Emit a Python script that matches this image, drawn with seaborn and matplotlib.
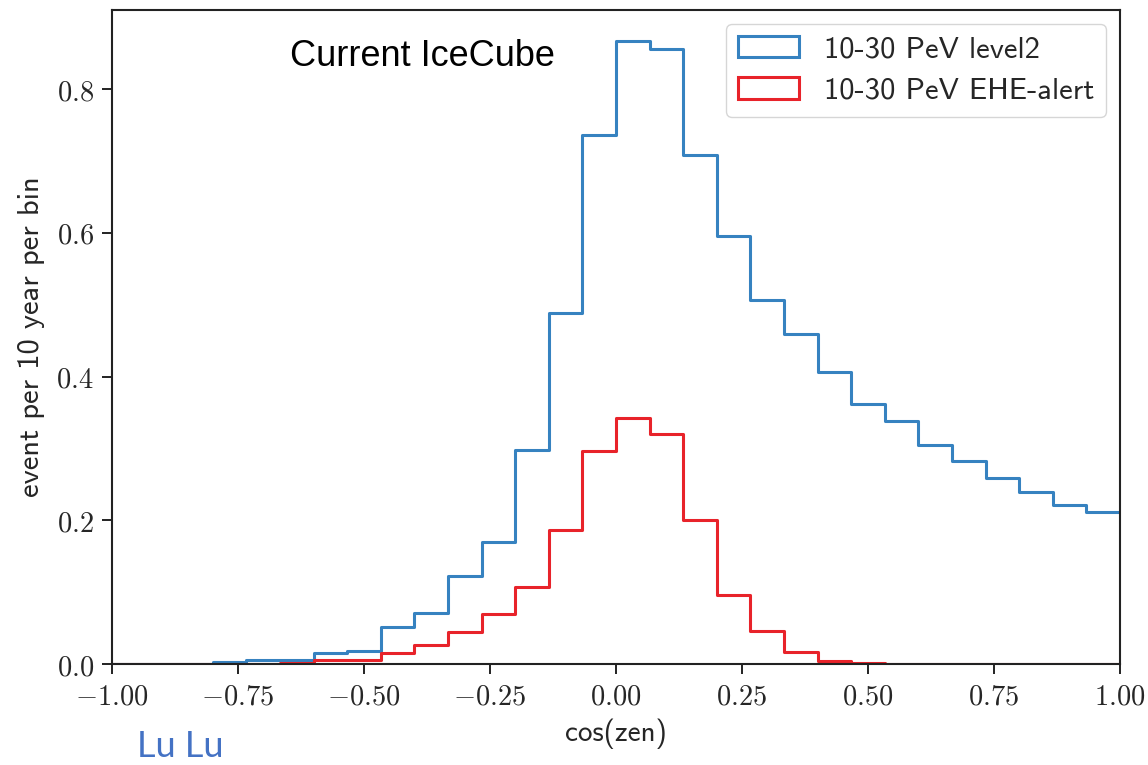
import numpy as np
import pandas as pd
import matplotlib
matplotlib.use("Agg")
import matplotlib.pyplot as plt
from matplotlib.ticker import FixedLocator, FuncFormatter
from matplotlib.patches import Patch
import seaborn as sns

# ---- data ----
n_bins = 30
x_range = (-1.0, 1.0)
bin_centers = np.linspace(-1.0, 1.0, n_bins + 1)[:-1] + 1.0 / n_bins

level2 = [0.0, 0.0, 0.0, 0.003, 0.006, 0.006, 0.016, 0.018, 0.052, 0.071,
          0.122, 0.170, 0.298, 0.488, 0.736, 0.867, 0.856, 0.708, 0.595, 0.506,
          0.459, 0.406, 0.362, 0.338, 0.305, 0.283, 0.259, 0.239, 0.221, 0.211]
ehe_alert = [0.0, 0.0, 0.0, 0.0, 0.0, 0.002, 0.006, 0.006, 0.016, 0.026,
             0.044, 0.069, 0.107, 0.187, 0.296, 0.342, 0.320, 0.201, 0.096, 0.046,
             0.017, 0.004, 0.002, 0.0, 0.0, 0.0, 0.0, 0.0, 0.0, 0.0]
labels = ["10-30 PeV level2", "10-30 PeV EHE-alert"]
x_ticks = [-1.0, -0.75, -0.5, -0.25, 0.0, 0.25, 0.5, 0.75, 1.0]
y_ticks = [0.0, 0.2, 0.4, 0.6, 0.8]

BLUE = "#3682c0"
RED = "#e8232a"

sns.set_theme(style="ticks")
plt.rcParams["mathtext.fontset"] = "cm"
plt.rcParams["axes.edgecolor"] = "#222222"

fig = plt.figure(figsize=(11.48, 7.65), dpi=100)
ax = fig.add_axes([112 / 1148, 1 - 664 / 765, (1120 - 112) / 1148, (664 - 10) / 765])

df1 = pd.DataFrame({"x": bin_centers, "w": level2})
df2 = pd.DataFrame({"x": bin_centers, "w": ehe_alert})
sns.histplot(data=df1, x="x", weights="w", bins=n_bins, binrange=x_range,
             element="step", fill=False, color=BLUE, linewidth=2.2, ax=ax)
sns.histplot(data=df2, x="x", weights="w", bins=n_bins, binrange=x_range,
             element="step", fill=False, color=RED, linewidth=2.2, ax=ax)

ax.set_xlim(*x_range)
ax.set_ylim(0.0, 0.91)
ax.xaxis.set_major_locator(FixedLocator(x_ticks))
ax.yaxis.set_major_locator(FixedLocator(y_ticks))
ax.xaxis.set_major_formatter(FuncFormatter(lambda v, p: r"$%.2f$" % v))
ax.yaxis.set_major_formatter(FuncFormatter(lambda v, p: r"$%.1f$" % v))
ax.tick_params(axis="both", labelsize=20.5, length=7, width=1.4, color="#222222",
               direction="out", pad=6)
for s in ax.spines.values():
    s.set_linewidth(1.5)
    s.set_visible(True)

ax.set_xlabel("cos(zen)", fontsize=21, family="cmss10", labelpad=6)
ax.set_ylabel("event per 10 year per bin", fontsize=22, family="cmss10", labelpad=8)

handles = [Patch(facecolor="none", edgecolor=BLUE, linewidth=2.2),
           Patch(facecolor="none", edgecolor=RED, linewidth=2.2)]
ax.legend(handles, labels, loc="upper right", prop={"family": "cmss10", "size": 22},
          frameon=True, fancybox=True, framealpha=0.8, edgecolor="#cccccc",
          borderaxespad=0.45, handlelength=2.0, labelspacing=0.45)

ax.text(-0.385, 0.845, "Current IceCube", fontsize=26, family="Liberation Sans",
        ha="center", va="center", color="black")

fig.text(137 / 1148, 8 / 765, "Lu Lu", fontsize=26, family="Lato",
         color="#4472c4", ha="left", va="baseline")

fig.savefig("out.png", dpi=100)
